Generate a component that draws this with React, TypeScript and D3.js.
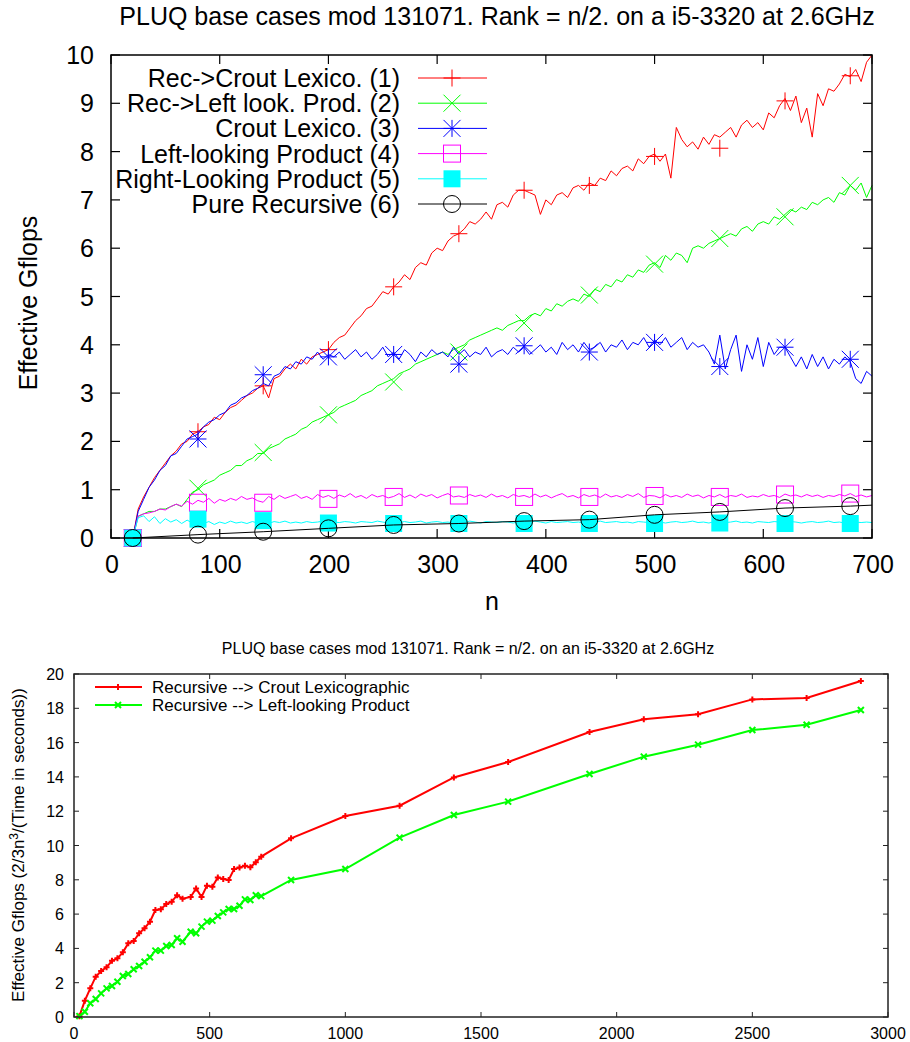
import React from 'react'
import * as d3 from 'd3'

// ---- top panel: n = 20..700, step 5 ----
const topN = d3.range(20, 701, 5)

const recCrout = [
  0.0, 0.6, 0.85, 1.05, 1.25, 1.4, 1.55, 1.7, 1.8, 1.95,
  2.0, 2.15, 2.2, 2.3, 2.35, 2.5, 2.45, 2.6, 2.7, 2.75,
  2.85, 2.95, 3.0, 3.1, 3.15, 2.9, 3.3, 3.35, 3.5, 3.6,
  3.5, 3.7, 3.6, 3.75, 3.8, 3.85, 3.9, 4.05, 4.15, 4.2,
  4.35, 4.5, 4.6, 4.75, 4.8, 4.95, 5.1, 5.05, 5.2, 5.3,
  5.45, 5.35, 5.6, 5.7, 5.65, 5.9, 6.0, 5.95, 6.15, 6.25,
  6.3, 6.4, 6.55, 6.5, 6.6, 6.75, 6.6, 6.9, 6.95, 6.85,
  7.1, 7.2, 7.2, 7.15, 7.1, 6.7, 7.0, 6.9, 7.1, 7.15,
  7.05, 7.25, 7.3, 7.2, 7.35, 7.3, 7.45, 7.4, 7.6, 7.5,
  7.65, 7.7, 7.6, 7.85, 7.75, 7.9, 7.95, 7.8, 7.95, 7.45,
  8.5, 8.25, 8.1, 8.2, 8.05, 8.3, 8.15, 8.35, 8.3, 8.4,
  8.5, 8.3, 8.55, 8.65, 8.5, 8.6, 8.45, 8.8, 8.7, 8.95,
  9.1, 8.85, 9.15, 8.6, 8.9, 8.3, 9.2, 8.95, 9.3, 9.25,
  9.4, 9.6, 9.55, 9.7, 9.45, 9.85, 10.0,
]

const recLeft = [
  0.0, 0.45, 0.5, 0.55, 0.55, 0.6, 0.6, 0.65, 0.7, 0.65,
  0.8, 0.95, 1.0, 1.1, 1.15, 1.2, 1.3, 1.35, 1.4, 1.5,
  1.5, 1.6, 1.65, 1.75, 1.75, 1.85, 1.9, 1.95, 2.05, 2.1,
  2.15, 2.25, 2.3, 2.4, 2.45, 2.5, 2.55, 2.6, 2.7, 2.75,
  2.8, 2.85, 2.95, 3.0, 3.05, 3.15, 3.2, 3.25, 3.3, 3.4,
  3.45, 3.5, 3.6, 3.65, 3.7, 3.75, 3.8, 3.85, 3.8, 3.9,
  3.95, 4.0, 4.1, 4.15, 4.2, 4.25, 4.3, 4.35, 4.3, 4.4,
  4.45, 4.5, 4.5, 4.6, 4.65, 4.6, 4.75, 4.7, 4.85, 4.8,
  4.9, 4.95, 4.9, 5.05, 5.0, 5.15, 5.1, 5.25, 5.2, 5.35,
  5.3, 5.45, 5.4, 5.55, 5.5, 5.65, 5.7, 5.6, 5.85, 5.75,
  5.9, 5.85, 5.7, 6.0, 6.05, 6.0, 6.1, 6.15, 6.2, 6.25,
  6.3, 6.25, 6.4, 6.45, 6.35, 6.5, 6.55, 6.5, 6.65, 6.6,
  6.7, 6.8, 6.75, 6.85, 6.8, 6.95, 6.9, 7.0, 7.05, 6.95,
  7.15, 7.1, 7.3, 7.2, 7.35, 7.05, 7.3,
]

const croutLex = [
  0.0, 0.55, 0.8, 1.05, 1.2, 1.4, 1.5, 1.7, 1.75, 1.9,
  2.05, 2.1, 2.15, 2.3, 2.4, 2.45, 2.55, 2.6, 2.75, 2.8,
  2.9, 2.95, 3.05, 3.1, 3.2, 3.15, 3.35, 3.4, 3.55, 3.5,
  3.65, 3.6, 3.75, 3.7, 3.85, 3.7, 3.8, 3.75, 3.85, 3.7,
  3.8, 3.9, 3.75, 3.85, 3.7, 3.8, 3.95, 3.75, 3.85, 3.7,
  3.9, 3.8, 3.65, 3.85, 3.75, 3.9, 3.8, 3.85, 3.75, 3.95,
  3.8, 3.9, 3.75, 3.85, 3.8, 3.95, 3.75, 3.85, 3.9, 3.8,
  3.95, 3.85, 3.95, 3.8, 3.9, 4.0, 3.85, 3.95, 3.8, 4.05,
  3.9, 4.0, 3.85, 4.05, 3.9, 3.95, 4.05, 3.85, 4.0, 3.95,
  4.1, 3.9, 4.05, 4.0, 4.15, 3.95, 4.1, 4.0, 4.15, 3.95,
  4.05, 4.15, 3.9, 4.05, 3.95, 4.0, 3.85, 3.6, 4.2, 3.5,
  3.9, 4.2, 3.45, 4.0, 3.7, 4.15, 3.55, 4.05, 3.8, 3.95,
  3.95, 3.75, 3.55, 3.75, 3.5, 3.8, 3.55, 3.75, 3.5, 3.7,
  3.6, 3.75, 3.65, 3.3, 3.2, 3.45, 3.35,
]

const leftProd = [
  0.0, 0.45, 0.5, 0.52, 0.55, 0.6, 0.58, 0.65, 0.7, 0.66,
  0.76, 0.7, 0.78, 0.74, 0.82, 0.72, 0.8, 0.76, 0.82, 0.78,
  0.86, 0.8, 0.83, 0.77, 0.74, 0.86, 0.8, 0.88, 0.82, 0.86,
  0.9, 0.82, 0.86, 0.8, 0.9, 0.84, 0.88, 0.82, 0.89, 0.85,
  0.92, 0.84, 0.88, 0.82, 0.9, 0.85, 0.88, 0.83, 0.86, 0.92,
  0.84, 0.89, 0.83, 0.91, 0.86, 0.9, 0.83, 0.88, 0.92, 0.85,
  0.87, 0.84, 0.9, 0.86, 0.89, 0.84, 0.91, 0.85, 0.88, 0.83,
  0.9, 0.86, 0.88, 0.84, 0.91, 0.85, 0.89, 0.83, 0.88, 0.92,
  0.85, 0.88, 0.83, 0.9, 0.86, 0.89, 0.84, 0.91, 0.85, 0.88,
  0.84, 0.9, 0.86, 0.92, 0.84, 0.88, 0.87, 0.83, 0.9, 0.85,
  0.88, 0.84, 0.91, 0.86, 0.89, 0.83, 0.88, 0.85, 0.9, 0.84,
  0.88, 0.86, 0.91, 0.84, 0.87, 0.85, 0.9, 0.86, 0.88, 0.84,
  0.91, 0.87, 0.89, 0.85, 0.9, 0.86, 0.89, 0.84, 0.88, 0.86,
  0.9, 0.87, 0.92, 0.86, 0.89, 0.85, 0.88,
]

const rightProd = [
  0.0, 0.42, 0.46, 0.34, 0.44, 0.3, 0.4, 0.33, 0.38, 0.3,
  0.37, 0.31, 0.36, 0.3, 0.34, 0.28, 0.33, 0.3, 0.35, 0.31,
  0.33, 0.3, 0.34, 0.31, 0.33, 0.3, 0.34, 0.32, 0.35, 0.31,
  0.33, 0.31, 0.34, 0.32, 0.33, 0.35, 0.31, 0.33, 0.32, 0.34,
  0.33, 0.31, 0.34, 0.33, 0.32, 0.35, 0.33, 0.31, 0.34, 0.32,
  0.34, 0.32, 0.33, 0.35, 0.31, 0.33, 0.34, 0.32, 0.33, 0.31,
  0.34, 0.32, 0.35, 0.33, 0.31, 0.34, 0.33, 0.32, 0.34, 0.33,
  0.31, 0.34, 0.33, 0.32, 0.35, 0.33, 0.31, 0.34, 0.32, 0.33,
  0.34, 0.32, 0.33, 0.31, 0.34, 0.33, 0.35, 0.32, 0.33, 0.34,
  0.32, 0.33, 0.31, 0.34, 0.33, 0.32, 0.34, 0.33, 0.31, 0.33,
  0.34, 0.32, 0.33, 0.35, 0.32, 0.33, 0.31, 0.34, 0.33, 0.32,
  0.33, 0.35, 0.32, 0.33, 0.31, 0.34, 0.33, 0.32, 0.34, 0.33,
  0.32, 0.34, 0.33, 0.31, 0.33, 0.34, 0.32, 0.33, 0.35, 0.32,
  0.33, 0.31, 0.34, 0.33, 0.32, 0.33, 0.32,
]

// marker samples (every 60)
const markN = [20, 80, 140, 200, 260, 320, 380, 440, 500, 560, 620, 680]
const recCroutMarks = [0, 2.2, 3.15, 3.9, 5.2, 6.3, 7.2, 7.3, 7.9, 8.07, 9.05, 9.57]
const recLeftMarks = [0, 1.03, 1.77, 2.55, 3.23, 3.85, 4.45, 5.03, 5.67, 6.2, 6.65, 7.3]
const croutLexMarks = [0, 2.05, 3.38, 3.75, 3.8, 3.6, 3.98, 3.85, 4.05, 3.55, 3.95, 3.7]
const leftProdMarks = [0, 0.73, 0.73, 0.81, 0.85, 0.88, 0.85, 0.85, 0.87, 0.85, 0.9, 0.92]
const rightProdMarks = [0, 0.39, 0.36, 0.31, 0.3, 0.3, 0.3, 0.3, 0.3, 0.31, 0.3, 0.3]

const pureRecN = [20, 80, 140, 200, 260, 320, 380, 440, 500, 560, 620, 680, 700]
const pureRec = [0, 0.07, 0.13, 0.2, 0.27, 0.3, 0.35, 0.38, 0.48, 0.54, 0.62, 0.66, 0.68]

const topXTicks = [0, 100, 200, 300, 400, 500, 600, 700]
const topYTicks = [0, 1, 2, 3, 4, 5, 6, 7, 8, 9, 10]

// ---- bottom panel ----
const botN = [
  20, 40, 60, 80, 100, 120, 140, 160, 180, 200, 220, 240, 260, 280, 300, 320, 340, 360,
  380, 400, 430, 450, 470, 490, 510, 530, 550, 570, 590, 610, 630, 650, 670, 690, 800,
  1000, 1200, 1400, 1600, 1900, 2100, 2300, 2500, 2700, 2900,
]
const botCrout = [
  0.05, 0.95, 1.67, 2.35, 2.68, 2.9, 3.28, 3.42, 3.77, 4.3, 4.43, 4.88, 5.17, 5.56, 6.24,
  6.28, 6.59, 6.72, 7.1, 6.9, 7.0, 7.5, 7.0, 7.66, 7.6, 8.14, 8.05, 7.99, 8.63, 8.71, 8.82,
  8.73, 9.02, 9.35, 10.42, 11.72, 12.32, 13.97, 14.87, 16.62, 17.36, 17.65, 18.52, 18.6,
  19.59,
]
const botLeft = [
  0.05, 0.31, 0.8, 1.05, 1.38, 1.67, 1.81, 2.06, 2.39, 2.51, 2.78, 2.97, 3.22, 3.48, 3.87,
  3.87, 4.14, 4.2, 4.59, 4.39, 4.97, 4.88, 5.27, 5.56, 5.62, 5.89, 6.1, 6.3, 6.3, 6.49,
  6.86, 6.82, 7.1, 7.05, 7.99, 8.63, 10.46, 11.78, 12.56, 14.17, 15.18, 15.88, 16.73,
  17.04, 17.9,
]
const botXTicks = [0, 500, 1000, 1500, 2000, 2500, 3000]
const botYTicks = [0, 2, 4, 6, 8, 10, 12, 14, 16, 18, 20]

type MType = 'plus' | 'cross' | 'star' | 'box' | 'fbox' | 'circle'

const Marker = ({ type, x, y, color, s, w = 1 }: { type: MType; x: number; y: number; color: string; s: number; w?: number }) => {
  const plus = `M${x - s},${y}H${x + s}M${x},${y - s}V${y + s}`
  const cross = `M${x - s},${y - s}L${x + s},${y + s}M${x - s},${y + s}L${x + s},${y - s}`
  if (type === 'plus') return <path d={plus} stroke={color} strokeWidth={w} fill="none" />
  if (type === 'cross') return <path d={cross} stroke={color} strokeWidth={w} fill="none" />
  if (type === 'star') return <path d={plus + cross} stroke={color} strokeWidth={w} fill="none" />
  if (type === 'box') return <rect x={x - s} y={y - s} width={2 * s} height={2 * s} stroke={color} strokeWidth={w} fill="none" />
  if (type === 'fbox') return <rect x={x - s} y={y - s} width={2 * s} height={2 * s} fill={color} />
  return <circle cx={x} cy={y} r={s} stroke={color} strokeWidth={w} fill="none" />
}

const FONT = "'Liberation Sans', Arial, Helvetica, sans-serif"

const TopPanel = () => {
  const x = d3.scaleLinear().domain([0, 700]).range([111, 872])
  const y = d3.scaleLinear().domain([0, 10]).range([538, 55])
  const series = [
    { label: 'Rec->Crout Lexico. (1)', color: '#ff0000', type: 'plus' as MType, n: topN, v: recCrout, m: recCroutMarks },
    { label: 'Rec->Left look. Prod. (2)', color: '#00ff00', type: 'cross' as MType, n: topN, v: recLeft, m: recLeftMarks },
    { label: 'Crout Lexico. (3)', color: '#0000ff', type: 'star' as MType, n: topN, v: croutLex, m: croutLexMarks },
    { label: 'Left-looking Product (4)', color: '#ff00ff', type: 'box' as MType, n: topN, v: leftProd, m: leftProdMarks },
    { label: 'Right-Looking Product (5)', color: '#00ffff', type: 'fbox' as MType, n: topN, v: rightProd, m: rightProdMarks },
    { label: 'Pure Recursive (6)', color: '#000000', type: 'circle' as MType, n: pureRecN, v: pureRec, m: pureRec.slice(0, markN.length) },
  ]
  const line = d3.line<[number, number]>().x((d) => x(d[0])).y((d) => y(d[1]))
  const [x0, x1] = x.range()
  const [y0, y1] = y.range()
  const tl = 9
  const fs = 25
  return (
    <g fontFamily={FONT}>
      <text x={497} y={25} fontSize={fs} textAnchor="middle">
        PLUQ base cases mod 131071. Rank = n/2. on a i5-3320 at 2.6GHz
      </text>
      {topYTicks.map((t) => (
        <g key={'y' + t}>
          <line x1={x0} x2={x0 + tl} y1={y(t)} y2={y(t)} stroke="#000" strokeWidth={1.2} />
          <line x1={x1} x2={x1 - tl} y1={y(t)} y2={y(t)} stroke="#000" strokeWidth={1.2} />
          <text x={94} y={y(t) + 9} fontSize={fs} textAnchor="end">{t}</text>
        </g>
      ))}
      {topXTicks.map((t) => (
        <g key={'x' + t}>
          <line x1={x(t)} x2={x(t)} y1={y0} y2={y0 - tl} stroke="#000" strokeWidth={1.2} />
          <line x1={x(t)} x2={x(t)} y1={y1} y2={y1 + tl} stroke="#000" strokeWidth={1.2} />
          <text x={x(t) + 1} y={573} fontSize={fs} textAnchor="middle">{t}</text>
        </g>
      ))}
      <text transform="translate(37,303) rotate(-90)" fontSize={fs} textAnchor="middle">Effective Gflops</text>
      <text x={492} y={610} fontSize={fs} textAnchor="middle">n</text>
      {series.map((s, i) => {
        const ly = 78 + i * 25.2
        return (
          <g key={s.label}>
            <path d={line(s.n.map((n, j) => [n, s.v[j]]) as [number, number][]) || ''} fill="none" stroke={s.color} strokeWidth={1} />
            {markN.map((n, j) => (
              <Marker key={j} type={s.type} x={x(n)} y={y(s.m[j])} color={s.color} s={8.5} />
            ))}
            <text x={400} y={ly + 9} fontSize={fs} textAnchor="end">{s.label}</text>
            <line x1={418} x2={487} y1={ly} y2={ly} stroke={s.color} strokeWidth={1} />
            <Marker type={s.type} x={452} y={ly} color={s.color} s={8.5} />
          </g>
        )
      })}
      <rect x={x0} y={y1} width={x1 - x0} height={y0 - y1} fill="none" stroke="#000" strokeWidth={1.5} />
    </g>
  )
}

const BottomPanel = () => {
  const x = d3.scaleLinear().domain([0, 3000]).range([74, 888])
  const y = d3.scaleLinear().domain([0, 20]).range([1017, 674])
  const series = [
    { label: 'Recursive --> Crout Lexicographic', color: '#ff0000', type: 'plus' as MType, v: botCrout },
    { label: 'Recursive --> Left-looking Product', color: '#00ff00', type: 'cross' as MType, v: botLeft },
  ]
  const line = d3.line<[number, number]>().x((d) => x(d[0])).y((d) => y(d[1]))
  const [x0, x1] = x.range()
  const [y0, y1] = y.range()
  const tl = 5
  return (
    <g fontFamily={FONT}>
      <text x={468} y={654} fontSize={16} textAnchor="middle">
        PLUQ base cases mod 131071. Rank = n/2. on an i5-3320 at 2.6GHz
      </text>
      {botYTicks.map((t) => (
        <g key={'y' + t}>
          <line x1={x0} x2={x0 + tl} y1={y(t)} y2={y(t)} stroke="#222" strokeWidth={1} />
          <line x1={x1} x2={x1 - tl} y1={y(t)} y2={y(t)} stroke="#222" strokeWidth={1} />
          <text x={64} y={y(t) + 6} fontSize={16} textAnchor="end">{t}</text>
        </g>
      ))}
      {botXTicks.map((t) => (
        <g key={'x' + t}>
          <line x1={x(t)} x2={x(t)} y1={y0} y2={y0 - tl} stroke="#222" strokeWidth={1} />
          <line x1={x(t)} x2={x(t)} y1={y1} y2={y1 + tl} stroke="#222" strokeWidth={1} />
          <text x={x(t)} y={1039} fontSize={16} textAnchor="middle">{t}</text>
        </g>
      ))}
      <text transform="translate(24,845) rotate(-90)" fontSize={17} textAnchor="middle">
        Effective Gflops (2/3n<tspan dy={-6} fontSize={12}>3</tspan><tspan dy={6}>/(Time in seconds))</tspan>
      </text>
      {series.map((s, i) => {
        const ly = 687 + i * 18
        return (
          <g key={s.label}>
            <path d={line(botN.map((n, j) => [n, s.v[j]]) as [number, number][]) || ''} fill="none" stroke={s.color} strokeWidth={2} />
            {botN.map((n, j) => (
              <Marker key={j} type={s.type} x={x(n)} y={y(s.v[j])} color={s.color} s={3} w={2} />
            ))}
            <text x={152} y={ly + 6} fontSize={17}>{s.label}</text>
            <line x1={95} x2={142} y1={ly} y2={ly} stroke={s.color} strokeWidth={2} />
            <Marker type={s.type} x={118} y={ly} color={s.color} s={3} w={2} />
          </g>
        )
      })}
      <rect x={x0} y={y1} width={x1 - x0} height={y0 - y1} fill="none" stroke="#222" strokeWidth={1.5} />
    </g>
  )
}

export default function App() {
  return (
    <svg width={910} height={1042} style={{ position: 'absolute', left: 0, top: 0, background: '#fff' }}>
      <rect width={910} height={1042} fill="#fff" />
      <TopPanel />
      <BottomPanel />
    </svg>
  )
}
